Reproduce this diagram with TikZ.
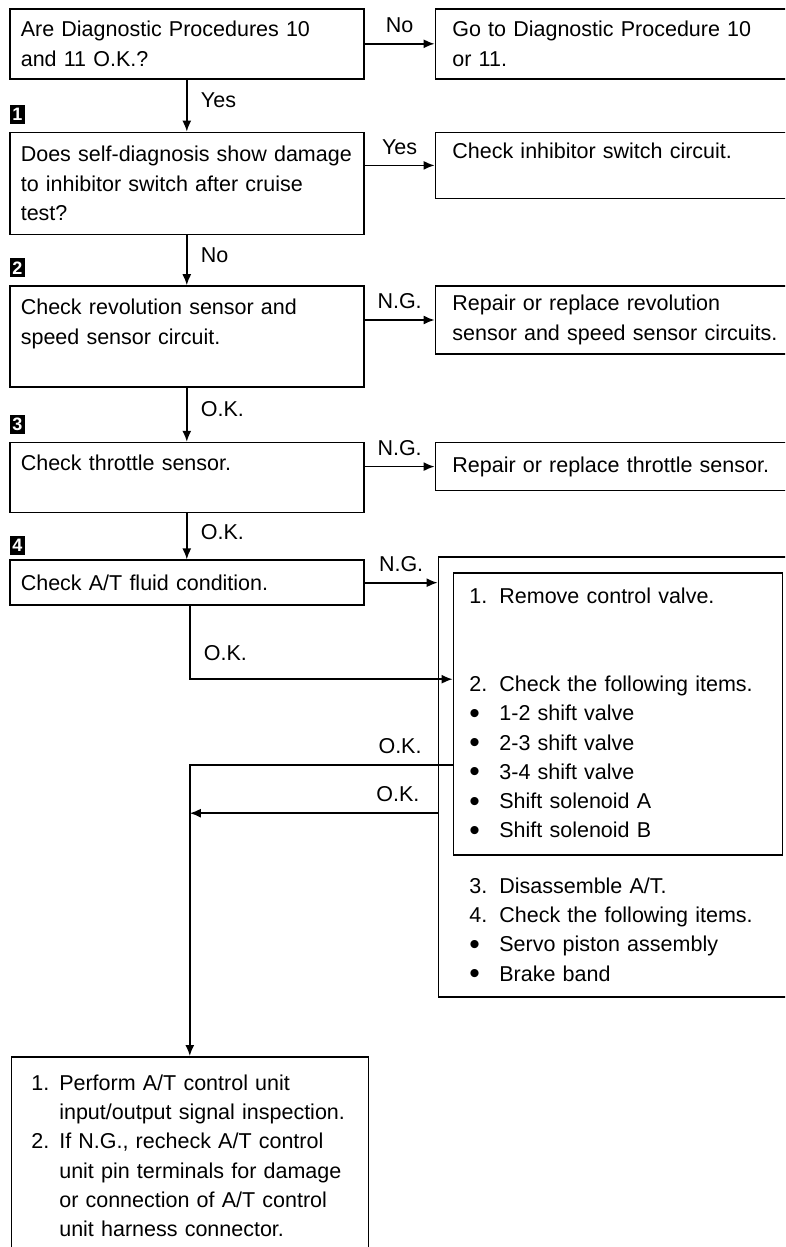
\documentclass[tikz,border=0pt]{standalone}
\usepackage{fontspec}
\setmainfont{Liberation Sans}
\usetikzlibrary{arrows.meta,positioning}
\tikzset{every node/.append style={align=left}}
\newcommand{\itemdot}{\makebox[30pt][l]{\raisebox{-2.5pt}{\fontsize{30pt}{30pt}\selectfont\textbullet}}}

\begin{document}
\begin{tikzpicture}[every node/.style={font=\fontsize{21.5pt}{29.3pt}\selectfont, align=left}, >={Latex[length=11pt,width=9pt]}, line width=1.6pt,
    leftbox/.style={draw, inner xsep=11pt, inner ysep=0pt, text width=332pt, minimum height=#1},
    rightbox/.style={draw, inner xsep=17pt, inner ysep=0pt, text width=330pt, minimum height=#1},
    numbox/.style={fill=black, text=white, inner sep=0pt, minimum width=15pt, minimum height=19pt, font=\bfseries\fontsize{18pt}{18pt}\selectfont}]
  \useasboundingbox (0,0) rectangle (785pt,-1247pt);
  \clip (0,0) rectangle (785pt,-1247pt);
  % left column: checks
  \node[leftbox=70pt, anchor=north west] (qa) at (9pt,-8pt) {Are Diagnostic Procedures 10\\and 11 O.K.?};
  \node[leftbox=102pt, below=52pt of qa] (qc) {Does self-diagnosis show damage\\to inhibitor switch after cruise\\test?};
  \node[leftbox=101pt, below=50pt of qc] (revchk) {Check revolution sensor and\\speed sensor circuit.\\ \mbox{}};
  \node[leftbox=70pt, below=54pt of revchk] (thchk) {Check throttle sensor.\\ \mbox{}};
  \node[leftbox=45pt, below=46pt of thchk] (atf) {Check A/T fluid condition.};
  \node[draw, inner xsep=20pt, inner ysep=0pt, text width=317pt, minimum height=198pt, below=450pt of atf, xshift=3pt] (final) {\makebox[28pt][l]{1.}Perform A/T control unit\\\hspace*{28pt}input/output signal inspection.\\\makebox[28pt][l]{2.}If N.G., recheck A/T control\\\hspace*{28pt}unit pin terminals for damage\\\hspace*{28pt}or connection of A/T control\\\hspace*{28pt}unit harness connector.};
  % right column: repairs
  \node[rightbox=70pt, right=70pt of qa.north east, anchor=north west] (gotoB) {Go to Diagnostic Procedure 10\\or 11.};
  \node[rightbox=66pt, right=70pt of qc.north east, anchor=north west] (inhib) {Check inhibitor switch circuit.\\ \mbox{}};
  \node[rightbox=68pt, right=70pt of revchk.north east, anchor=north west] (revfix) {Repair or replace revolution\\sensor and speed sensor circuits.};
  \node[rightbox=48pt, right=70pt of thchk.north east, anchor=north west] (thfix) {Repair or replace throttle sensor.};
  \node[rightbox=440pt, right=73pt of atf.north east, anchor=north west, yshift=3pt] (repair) {};
  \node[draw, inner xsep=16pt, inner ysep=0pt, text width=297pt, minimum height=282pt, below right=16pt and 15pt of repair.north west] (valve) {\makebox[30pt][l]{1.}Remove control valve.\\[58.6pt]\makebox[30pt][l]{2.}Check the following items.\\\itemdot 1-2 shift valve\\\itemdot 2-3 shift valve\\\itemdot 3-4 shift valve\\\itemdot Shift solenoid A\\\itemdot Shift solenoid B};
  \node[inner sep=0pt, text width=300pt, below right=21pt and 16pt of valve.south west] (atitems) {\makebox[30pt][l]{3.}Disassemble A/T.\\\makebox[30pt][l]{4.}Check the following items.\\\itemdot Servo piston assembly\\\itemdot Brake band};
  % step numbers
  \node[numbox, above right=7pt and 0pt of qc.north west] (m1) {1};
  \node[numbox, above right=7pt and 0pt of revchk.north west] (m2) {2};
  \node[numbox, above right=7pt and 0pt of thchk.north west] (m3) {3};
  \node[numbox, above right=4pt and 0pt of atf.north west] (m4) {4};
  % connectors
  \draw[->] (qa) -- node[right=10pt, pos=0.4] {Yes} (qc);
  \draw[->] (qa.east) -- node[above=7pt] {No} (qa.east -| gotoB.west);
  \draw[->] (qc.east |- inhib.west) -- node[above=7pt] {Yes} (inhib.west);
  \draw[->] (qc) -- node[right=10pt, pos=0.4] {No} (revchk);
  \draw[->] (revchk.east |- revfix.west) -- node[above=7pt] {N.G.} (revfix.west);
  \draw[->] (revchk) -- node[right=10pt, pos=0.4] {O.K.} (thchk);
  \draw[->] (thchk.east |- thfix.west) -- node[above=7pt] {N.G.} (thfix.west);
  \draw[->] (thchk) -- node[right=10pt, pos=0.4] {O.K.} (atf);
  \draw[->] (atf.east) -- node[above=7pt] {N.G.} (atf.east -| repair.west);
  \draw[->] ([xshift=3pt]atf.south) |- node[right=10pt, pos=0.32] {O.K.} ([yshift=35pt]valve.west);
  \draw[->] ([yshift=-51pt]valve.west) -| node[above=7pt, pos=0.1] {O.K.} (final.north);
  \coordinate (okback) at ([yshift=-36pt]repair.west);
  \draw[->] (okback) -- node[above=7pt, pos=0.16] {O.K.} (okback -| final.north);
\end{tikzpicture}
\end{document}
